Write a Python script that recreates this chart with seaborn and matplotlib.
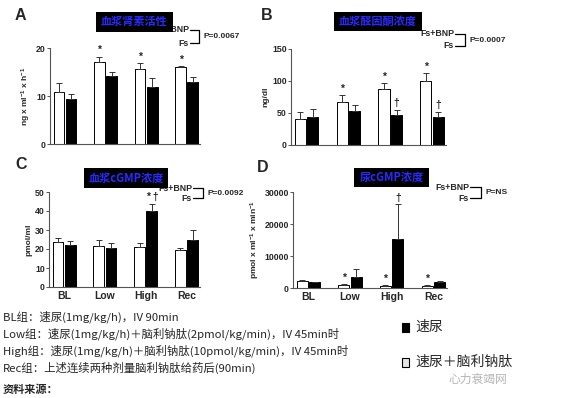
import matplotlib
matplotlib.use('Agg')
import numpy as np
import pandas as pd
import seaborn as sns
from matplotlib import pyplot as plt
from matplotlib.patches import Rectangle
from matplotlib.lines import Line2D

W, H = 563, 398
CJK = ['Noto Sans CJK SC', 'DejaVu Sans']

GROUPS = ['BL', 'Low', 'High', 'Rec']
SERIES = ['Fs+BNP', 'Fs']

# A: plasma renin activity
renin_bnp = [10.8, 17.0, 15.6, 16.0]
renin_bnp_err = [2.0, 1.2, 1.3, 0.3]
renin_fs = [9.3, 14.2, 11.8, 13.0]
renin_fs_err = [1.2, 0.8, 2.0, 1.0]
renin_bnp_marks = ['', '*', '*', '*']
renin_fs_marks = ['', '', '', '']

# B: plasma aldosterone
aldo_bnp = [41, 67, 87, 100]
aldo_bnp_err = [10, 11, 10, 12]
aldo_fs = [43, 53, 47, 43]
aldo_fs_err = [13, 10, 8, 9]
aldo_bnp_marks = ['', '*', '*', '*']
aldo_fs_marks = ['', '', '†', '†']

# C: plasma cGMP
pcgmp_bnp = [23.5, 21.8, 21.2, 19.3]
pcgmp_bnp_err = [2.5, 3.2, 2.0, 1.4]
pcgmp_fs = [22.0, 20.7, 40.0, 25.0]
pcgmp_fs_err = [2.2, 2.3, 3.8, 4.8]
pcgmp_bnp_marks = ['', '', '', '']
pcgmp_fs_marks = ['', '', '* †', '']

# D: urinary cGMP
ucgmp_bnp = [2200, 900, 700, 600]
ucgmp_bnp_err = [400, 200, 200, 200]
ucgmp_fs = [1800, 3500, 15200, 1900]
ucgmp_fs_err = [200, 2300, 11000, 200]
ucgmp_bnp_marks = ['', '*', '*', '*']
ucgmp_fs_marks = ['', '', '†', '']

NOTES = [
    'BL组：速尿(1mg/kg/h)，IV 90min',
    'Low组：速尿(1mg/kg/h)＋脑利钠肽(2pmol/kg/min)，IV 45min时',
    'High组：速尿(1mg/kg/h)＋脑利钠肽(10pmol/kg/min)，IV 45min时',
    'Rec组：上述连续两种剂量脑利钠肽给药后(90min)',
]


def fx(x):
    return x / W


def fy(y):
    return 1 - y / H


def make_axes(fig, left, right, top, bottom):
    return fig.add_axes([fx(left), fy(bottom), (right - left) / W, (bottom - top) / H])


def interleave(a, b):
    return [v for pair in zip(a, b) for v in pair]


def draw_panel(ax, bnp, bnp_err, fs, fs_err, bnp_marks, fs_marks, ymax, yticks, ylabel, show_xticks):
    df = pd.DataFrame({
        'group': GROUPS * 2,
        'series': [SERIES[0]] * 4 + [SERIES[1]] * 4,
        'value': bnp + fs,
    })
    sns.barplot(data=df, x='group', y='value', hue='series', order=GROUPS, hue_order=SERIES,
                palette=['white', 'black'], width=0.6, gap=0.12, edgecolor='black',
                linewidth=0.7, errorbar=None, legend=False, ax=ax)

    bars = sorted(ax.patches, key=lambda p: p.get_x())
    xs = [p.get_x() + p.get_width() / 2 for p in bars]
    vals = interleave(bnp, fs)
    errs = interleave(bnp_err, fs_err)
    marks = interleave(bnp_marks, fs_marks)

    ax.errorbar(xs, vals, yerr=[np.zeros(len(errs)), errs], fmt='none', ecolor='#333333',
                elinewidth=0.7, capsize=2, capthick=0.7, clip_on=False, zorder=1)
    for x, v, e, m in zip(xs, vals, errs, marks):
        if m:
            ax.annotate(m, (x, v + e), xytext=(0, 1), textcoords='offset points',
                        ha='center', va='bottom', fontsize=7.5, fontweight='bold',
                        annotation_clip=False)

    ax.set_xlim(-0.37, 3.33)
    ax.set_ylim(0, ymax)
    ax.set_yticks(yticks)
    ax.set_yticklabels([str(t) for t in yticks], fontsize=6.3, fontweight='bold')
    ax.tick_params(axis='y', length=2, width=0.7, pad=1, color='#555555')
    ax.tick_params(axis='x', length=0, pad=3)
    if show_xticks:
        ax.set_xticklabels(GROUPS, fontsize=7.5, fontweight='bold')
    else:
        ax.set_xticklabels([])
    ax.set_xlabel('')
    ax.set_ylabel(ylabel, fontsize=6, fontweight='bold', labelpad=2)
    sns.despine(ax=ax)
    for side in ['left', 'bottom']:
        ax.spines[side].set_color('#555555')
        ax.spines[side].set_linewidth(0.8)
    ax.set_facecolor('none')


def add_bracket(fig, x_end, x_br, y_top, y_bot, p_text):
    fig.text(fx(x_end - 1), fy(y_top), 'Fs+BNP', ha='right', va='center', fontsize=6.3, fontweight='bold')
    fig.text(fx(x_end - 1), fy(y_bot), 'Fs', ha='right', va='center', fontsize=6.3, fontweight='bold')
    xs = [fx(x_end), fx(x_br), fx(x_br), fx(x_end)]
    ys = [fy(y_top), fy(y_top), fy(y_bot), fy(y_bot)]
    fig.add_artist(Line2D(xs, ys, color='black', lw=0.9))
    fig.text(fx(x_br + 5), fy((y_top + y_bot) / 2), p_text, ha='left', va='center',
             fontsize=6, fontweight='bold')


def add_title_box(fig, left, right, top, bottom, text):
    fig.add_artist(Rectangle((fx(left), fy(bottom)), (right - left) / W, (bottom - top) / H,
                             transform=fig.transFigure, facecolor='black', edgecolor='none', zorder=5))
    fig.text(fx((left + right) / 2), fy((top + bottom) / 2), text, ha='center', va='center',
             fontsize=8, color='#2a2aff', fontweight='bold', family=CJK, zorder=6)


sns.set_style('ticks')
plt.rcParams['font.family'] = ['Liberation Sans', 'Noto Sans CJK SC', 'DejaVu Sans']
plt.rcParams['mathtext.fontset'] = 'custom'
plt.rcParams['mathtext.rm'] = 'Liberation Sans:bold'
plt.rcParams['mathtext.it'] = 'Liberation Sans:bold'

fig = plt.figure(figsize=(W / 100, H / 100), dpi=100)
fig.patch.set_facecolor('white')

ax_a = make_axes(fig, 50, 200, 48, 144)
draw_panel(ax_a, renin_bnp, renin_bnp_err, renin_fs, renin_fs_err, renin_bnp_marks, renin_fs_marks,
           20, [0, 10, 20], r'ng x ml$^{-1}$ x h$^{-1}$', False)

ax_b = make_axes(fig, 291, 446, 49, 145)
draw_panel(ax_b, aldo_bnp, aldo_bnp_err, aldo_fs, aldo_fs_err, aldo_bnp_marks, aldo_fs_marks,
           150, [0, 50, 100, 150], 'ng/dl', False)

ax_c = make_axes(fig, 49, 200, 192, 287)
draw_panel(ax_c, pcgmp_bnp, pcgmp_bnp_err, pcgmp_fs, pcgmp_fs_err, pcgmp_bnp_marks, pcgmp_fs_marks,
           50, [0, 10, 20, 30, 40, 50], 'pmol/ml', True)

ax_d = make_axes(fig, 293, 447, 192, 288)
draw_panel(ax_d, ucgmp_bnp, ucgmp_bnp_err, ucgmp_fs, ucgmp_fs_err, ucgmp_bnp_marks, ucgmp_fs_marks,
           30000, [0, 10000, 20000, 30000], r'pmol x ml$^{-1}$ x min$^{-1}$', True)

# panel letters
for letter, x, y in [('A', 15, 15), ('B', 261, 15), ('C', 15, 165), ('D', 257, 167)]:
    fig.text(fx(x), fy(y), letter, ha='left', va='center', fontsize=11.5, fontweight='bold')

# legends with brackets
add_bracket(fig, 190, 199, 30, 43, 'P=0.0067')
add_bracket(fig, 455, 465, 34, 46, 'P=0.0007')
add_bracket(fig, 193, 203, 188, 198, 'P=0.0092')
add_bracket(fig, 470, 481, 187, 198, 'P=NS')

# title boxes
add_title_box(fig, 96, 173, 12, 32, '血浆肾素活性')
add_title_box(fig, 334, 422, 12, 31, '血浆醛固酮浓度')
add_title_box(fig, 84, 168, 168, 188, '血浆cGMP浓度')
add_title_box(fig, 354, 429, 168, 187, '尿cGMP浓度')

# notes under the charts
for i, line in enumerate(NOTES):
    fig.text(fx(3), fy(317 + 17 * i), line, ha='left', va='center', fontsize=8.2, family=CJK)
fig.text(fx(3), fy(389), '资料来源：', ha='left', va='center', fontsize=8, fontweight='bold', family=CJK)

# colour key
fig.add_artist(Rectangle((fx(402), fy(332)), 7 / W, 9 / H, transform=fig.transFigure,
                         facecolor='black', edgecolor='black', lw=0.8))
fig.text(fx(415), fy(327), '速尿', ha='left', va='center', fontsize=10, family=CJK)
fig.add_artist(Rectangle((fx(402), fy(367)), 7 / W, 9 / H, transform=fig.transFigure,
                         facecolor='#e6e6e6', edgecolor='black', lw=0.8))
fig.text(fx(415), fy(362), '速尿＋脑利钠肽', ha='left', va='center', fontsize=10, family=CJK)
fig.text(fx(448), fy(379), '心力衰竭网', ha='left', va='center', fontsize=8.5,
         color='#b5b5b5', family=CJK)

fig.savefig('out.png', dpi=100)
